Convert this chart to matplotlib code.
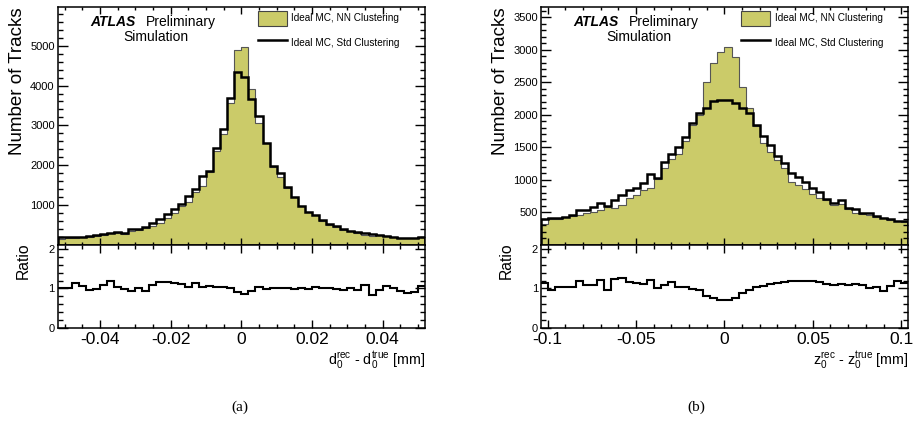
import matplotlib
matplotlib.use("Agg")
import matplotlib.pyplot as plt
import numpy as np
from matplotlib.patches import Patch
from matplotlib.lines import Line2D
from matplotlib.ticker import MultipleLocator, FuncFormatter

plt.rcParams['font.family'] = ['Liberation Sans', 'DejaVu Sans']
plt.rcParams['mathtext.fontset'] = 'custom'
plt.rcParams['mathtext.rm'] = 'Liberation Sans'
plt.rcParams['mathtext.it'] = 'Liberation Sans:italic'

# --- d0 residuals, 52 bins of 0.002 mm
d0_lo, d0_hi, d0_nbins = -0.052, 0.052, 52
d0_nn = [159, 165, 170, 190, 200, 220, 240, 290, 290, 276, 360, 376, 418,
         476, 560, 685, 794, 978, 1086, 1337, 1480, 1838, 2357, 2776, 3554,
         4900, 4970, 3905, 3067, 2550, 1964, 1713, 1430, 1196, 978, 836,
         752, 610, 510, 450, 385, 350, 300, 255, 230, 240, 222, 205, 180,
         170, 185, 195]
d0_std = [192, 192, 195, 209, 226, 250, 267, 309, 318, 293, 393, 410, 460,
          560, 644, 770, 903, 1020, 1229, 1397, 1730, 1864, 2440, 2909, 3680,
          4346, 4220, 3655, 3235, 2550, 1990, 1798, 1447, 1196, 978, 830,
          752, 627, 527, 470, 410, 360, 330, 305, 272, 250, 228, 210, 186,
          170, 186, 195]
d0_ratio = [1.02, 1.02, 1.13, 1.06, 0.96, 0.98, 1.08, 1.19, 1.04, 0.98, 0.94,
            1.02, 0.94, 1.10, 1.16, 1.16, 1.15, 1.12, 1.05, 1.15, 1.03, 1.06,
            1.04, 1.05, 1.02, 0.90, 0.85, 0.93, 1.04, 0.98, 1.00, 1.02, 1.00,
            0.98, 1.00, 0.98, 1.03, 1.02, 1.00, 0.99, 0.96, 1.02, 0.96, 1.10,
            0.84, 0.95, 1.06, 1.02, 0.93, 0.88, 0.90, 1.06]

# --- z0 residuals, 52 bins of 0.004 mm
z0_lo, z0_hi, z0_nbins = -0.104, 0.104, 52
z0_nn = [330, 400, 405, 425, 446, 461, 497, 512, 538, 590, 564, 615, 718,
         769, 846, 872, 1010, 1180, 1318, 1400, 1604, 1846, 2000, 2512, 2804,
         2973, 3050, 2896, 2425, 2102, 1830, 1573, 1435, 1307, 1180, 974,
         923, 856, 784, 718, 692, 615, 630, 549, 487, 481, 461, 435, 410,
         385, 364, 353]
z0_std = [400, 410, 410, 436, 461, 538, 538, 579, 641, 600, 692, 769, 846,
          872, 958, 1092, 1026, 1281, 1400, 1512, 1656, 1882, 2025, 2102,
          2220, 2230, 2230, 2179, 2102, 2025, 1846, 1676, 1538, 1369, 1256,
          1102, 1051, 974, 872, 820, 702, 641, 692, 564, 556, 497, 487, 446,
          410, 395, 374, 364]
z0_ratio = [1.13, 0.95, 1.05, 1.03, 1.03, 1.19, 1.09, 1.09, 1.22, 0.95, 1.24,
            1.26, 1.16, 1.13, 1.12, 1.22, 1.01, 1.09, 1.16, 1.03, 1.03, 0.98,
            0.97, 0.82, 0.76, 0.71, 0.71, 0.76, 0.88, 0.95, 1.03, 1.07, 1.12,
            1.15, 1.16, 1.18, 1.20, 1.20, 1.18, 1.16, 1.11, 1.08, 1.12, 1.09,
            1.12, 1.09, 1.01, 1.03, 0.94, 1.07, 1.18, 1.13]

fill_col = '#cbcb69'
labels = ['Ideal MC, NN Clustering', 'Ideal MC, Std Clustering']

fig = plt.figure(figsize=(9.13, 4.28), dpi=100)


def root_label(v, pos):
    # ROOT style: plain hyphen, no trailing zeros
    if abs(v) < 1e-9:
        return '0'
    return '{:g}'.format(round(v, 6))


def panel(x0, lo, hi, nbins, nn, std, ratio, ymax, yticks, yminor,
          xmajor, xminor, xlabel, caption, cap_x):
    edges = np.linspace(lo, hi, nbins + 1)
    ax = fig.add_axes([x0, 0.4276, 0.4026, 0.556])
    rx = fig.add_axes([x0, 0.2336, 0.4026, 0.194], sharex=ax)

    ax.stairs(nn, edges, fill=True, color=fill_col, lw=0)
    ax.stairs(nn, edges, color='#555555', lw=0.8, baseline=None)
    ax.stairs(std, edges, color='black', lw=1.8, baseline=0)
    ax.set_xlim(lo, hi)
    ax.set_ylim(0, ymax)
    ax.set_yticks(yticks)
    ax.yaxis.set_minor_locator(MultipleLocator(yminor))
    ax.xaxis.set_major_locator(MultipleLocator(xmajor))
    ax.xaxis.set_minor_locator(MultipleLocator(xminor))
    ax.xaxis.set_major_formatter(FuncFormatter(root_label))
    ax.tick_params(axis='x', labelbottom=False)
    ax.tick_params(axis='y', labelsize=8, pad=2)
    ax.tick_params(axis='y', which='major', length=7.2)
    ax.tick_params(axis='y', which='minor', length=3.6)
    ax.tick_params(axis='x', which='major', length=5)
    ax.tick_params(axis='x', which='minor', length=2.5)
    ax.set_ylabel('Number of Tracks', fontsize=13.5, ha='right', va='center')
    ax.yaxis.set_label_coords(-0.108, 1.0)

    ax.text(0.09, 0.938, 'ATLAS', fontsize=10, weight='bold', style='italic',
            va='center', transform=ax.transAxes)
    ax.text(0.24, 0.938, 'Preliminary', fontsize=10, va='center',
            transform=ax.transAxes)
    ax.text(0.268, 0.875, 'Simulation', fontsize=10, va='center', ha='center',
            transform=ax.transAxes)

    handles = [Patch(facecolor=fill_col, edgecolor='#444444', lw=0.8),
               Line2D([], [], color='black', lw=1.8)]
    ax.legend(handles, labels, loc='upper left', bbox_to_anchor=(0.545, 0.985),
              frameon=False, fontsize=7.2, handlelength=2.9, handleheight=2.0,
              handletextpad=0.45, labelspacing=0.9, borderpad=0,
              borderaxespad=0)

    rx.stairs(ratio, edges, color='black', lw=1.5, baseline=None)
    rx.set_ylim(0, 2.1)
    rx.set_yticks([0, 1, 2])
    rx.yaxis.set_minor_locator(MultipleLocator(0.2))
    rx.tick_params(axis='y', labelsize=8, pad=2)
    rx.tick_params(axis='x', labelsize=12.5, pad=3)
    rx.tick_params(axis='y', which='major', length=7.2)
    rx.tick_params(axis='y', which='minor', length=3.6)
    rx.tick_params(axis='x', which='major', length=5.5)
    rx.tick_params(axis='x', which='minor', length=2.8)
    rx.set_ylabel('Ratio', fontsize=11.3, ha='right', va='center')
    rx.yaxis.set_label_coords(-0.094, 1.03)
    rx.set_xlabel(xlabel, fontsize=10.3, ha='right', va='center')
    rx.xaxis.set_label_coords(1.0, -0.39)

    for a in (ax, rx):
        a.tick_params(which='both', direction='in', top=True, right=True,
                      width=1.0)
        for s in a.spines.values():
            s.set_linewidth(1.1)

    fig.text(cap_x, 0.049, caption, fontsize=11, ha='center', va='center',
             family='Liberation Serif')


panel(0.063, d0_lo, d0_hi, d0_nbins, d0_nn, d0_std, d0_ratio, 5970,
      [1000, 2000, 3000, 4000, 5000], 200, 0.02, 0.005,
      r'$\mathregular{d_0^{rec}}$ - $\mathregular{d_0^{true}}$ [mm]',
      '(a)', 0.263)
panel(0.5922, z0_lo, z0_hi, z0_nbins, z0_nn, z0_std, z0_ratio, 3660,
      [500, 1000, 1500, 2000, 2500, 3000, 3500], 100, 0.05, 0.01,
      r'$\mathregular{z_0^{rec}}$ - $\mathregular{z_0^{true}}$ [mm]',
      '(b)', 0.763)

fig.savefig('out.png', dpi=100)
